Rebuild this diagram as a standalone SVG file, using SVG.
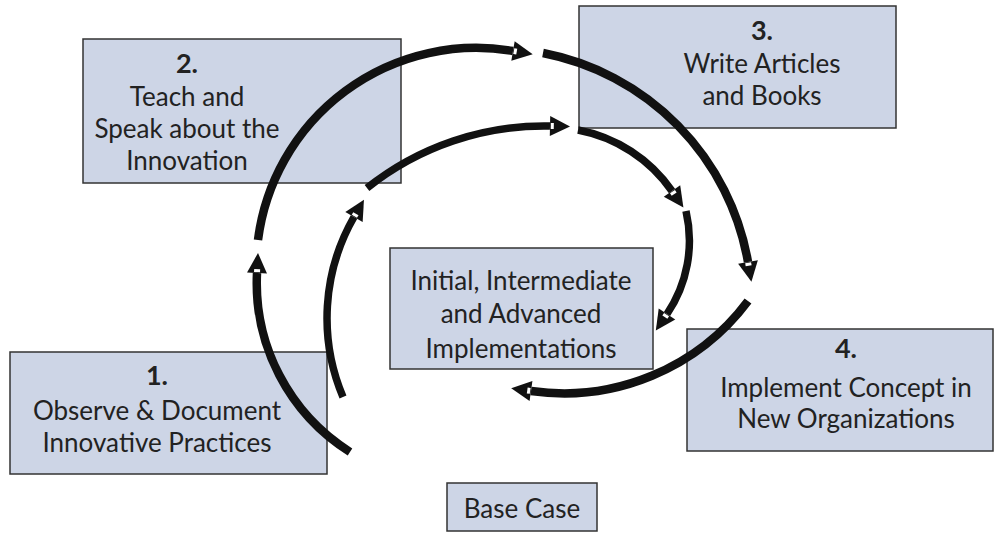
<svg xmlns="http://www.w3.org/2000/svg" width="996" height="534" viewBox="0 0 996 534">
<style>
.box{fill:#cdd5e6;stroke:#333;stroke-width:1.5}
.t{font-family:Lato,"Open Sans","Liberation Sans",sans-serif;font-size:26px;fill:#222;text-anchor:middle}
.n{font-weight:bold;font-size:27px}
.arc{fill:none;stroke:#111;stroke-linecap:butt}
.o{stroke-width:8.5}
.i{stroke-width:7.5}
</style>
<defs>
<marker id="ah" markerUnits="userSpaceOnUse" viewBox="-2 -12 24 24" markerWidth="24" markerHeight="24" refX="0" refY="0" orient="auto">
<path d="M0,-10 L20,0 L0,10 Z" fill="#111"/>
<rect x="0.8" y="-3" width="3" height="6" fill="#fff"/>
</marker>
</defs>
<rect width="996" height="534" fill="#fff"/>
<g id="node2">
<rect class="box" x="83" y="39" width="318" height="144"/>
<text class="t n" x="187" y="73">2.</text>
<text class="t" x="187" y="106">Teach and</text>
<text class="t" x="187" y="138">Speak about the</text>
<text class="t" x="187" y="170">Innovation</text>
</g>
<g id="node3">
<rect class="box" x="579" y="6" width="317" height="122"/>
<text class="t n" x="762" y="40">3.</text>
<text class="t" x="762" y="73">Write Articles</text>
<text class="t" x="762" y="105">and Books</text>
</g>
<g id="node1">
<rect class="box" x="10" y="352" width="317" height="122"/>
<text class="t n" x="157" y="385">1.</text>
<text class="t" x="157" y="420">Observe &amp; Document</text>
<text class="t" x="157" y="452">Innovative Practices</text>
</g>
<g id="center">
<rect class="box" x="390" y="248" width="263" height="121"/>
<text class="t" x="521" y="290">Initial, Intermediate</text>
<text class="t" x="521" y="323">and Advanced</text>
<text class="t" x="521" y="358">Implementations</text>
</g>
<g id="node4">
<rect class="box" x="687" y="329" width="306" height="122"/>
<text class="t n" x="846" y="358">4.</text>
<text class="t" x="846" y="397">Implement Concept in</text>
<text class="t" x="846" y="428">New Organizations</text>
</g>
<g id="base">
<rect class="box" x="447" y="483" width="150" height="48"/>
<text class="t" x="522" y="518">Base Case</text>
</g>
<g id="connectors">
<path class="arc o" marker-end="url(#ah)" d="M350,452 A200,200 0 0 1 257,273"/>
<path class="arc o" marker-end="url(#ah)" d="M258,240 A220,220 0 0 1 513,51"/>
<path class="arc o" marker-end="url(#ah)" d="M543,53 A258,258 0 0 1 748,262"/>
<path class="arc o" marker-end="url(#ah)" d="M748,301 A230,230 0 0 1 531,391"/>
<path class="arc i" marker-end="url(#ah)" d="M343,397 A203,203 0 0 1 354,217"/>
<path class="arc i" marker-end="url(#ah)" d="M367,188 A284,284 0 0 1 550,126"/>
<path class="arc i" marker-end="url(#ah)" d="M578,130 A148,148 0 0 1 672,191"/>
<path class="arc i" marker-end="url(#ah)" d="M686,211 A131,131 0 0 1 667,314"/>
</g>
</svg>
